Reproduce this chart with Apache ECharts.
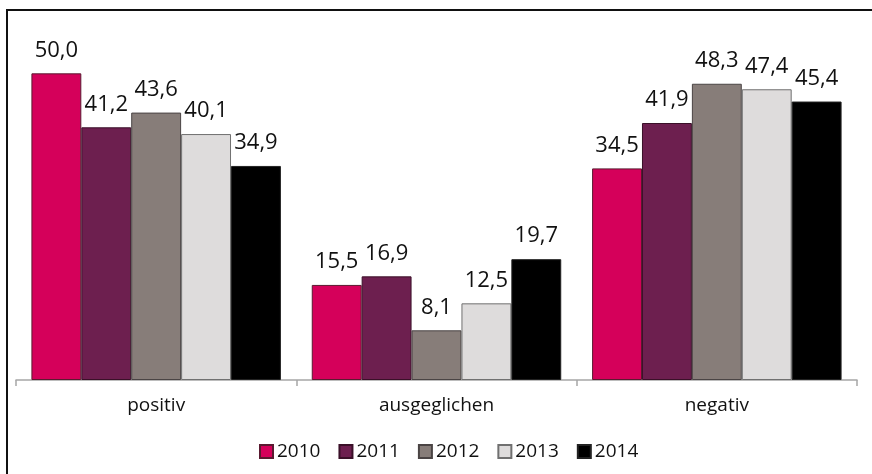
<!DOCTYPE html>
<html>
<head>
    <meta charset="utf-8">
    <title>Bewertung</title>
    <script src="https://cdn.jsdelivr.net/npm/echarts@6/dist/echarts.min.js"></script>
    <style>
        html, body { margin: 0; padding: 0; background: #fff; }
    </style>
</head>
<body>
    <div id="chart" style="width:872px;height:474px"></div>
    <script type="text/javascript">
        var categories = ['positiv', 'ausgeglichen', 'negativ'];
        var years = ['2010', '2011', '2012', '2013', '2014'];
        var v2010 = [50.0, 15.5, 34.5];
        var v2011 = [41.2, 16.9, 41.9];
        var v2012 = [43.6, 8.1, 48.3];
        var v2013 = [40.1, 12.5, 47.4];
        var v2014 = [34.9, 19.7, 45.4];
        var values = [v2010, v2011, v2012, v2013, v2014];
        var colors = ['#d5005a', '#6d1f4f', '#877d79', '#dedcdc', '#000000'];
        var borders = ['#5a1a30', '#3a1028', '#4a4444', '#707070', '#222222'];

        var myChart = echarts.init(document.getElementById('chart'));

        var series = [];
        for (var i = 0; i < years.length; i++) {
            series.push({
                name: years[i],
                type: 'bar',
                data: values[i],
                barGap: '0%',
                barCategoryGap: '11%',
                itemStyle: { color: colors[i], borderColor: borders[i], borderWidth: 1 },
                label: {
                    show: true,
                    position: 'top',
                    distance: 12,
                    fontFamily: 'Open Sans',
                    fontSize: 22,
                    color: '#111',
                    formatter: function (p) { return p.value.toFixed(1).replace('.', ','); }
                }
            });
        }

        var option = {
            animation: false,
            grid: { left: 16, right: 15, top: 12, bottom: 94 },
            legend: {
                data: years,
                left: 254,
                top: 437,
                itemWidth: 13,
                itemHeight: 13,
                itemGap: 18,
                icon: 'rect',
                textStyle: { fontFamily: 'Open Sans', fontSize: 19, color: '#111', padding: [0, 0, 0, -1] }
            },
            xAxis: {
                type: 'category',
                data: categories,
                axisLine: { lineStyle: { color: '#a6a6a6', width: 1.5 } },
                axisTick: { show: true, length: 6, lineStyle: { color: '#a6a6a6', width: 1.5 } },
                axisLabel: { margin: 16, fontFamily: 'Open Sans', fontSize: 19, color: '#111' }
            },
            yAxis: {
                type: 'value',
                min: 0,
                max: 60,
                show: false,
                splitLine: { show: false }
            },
            graphic: [{
                type: 'polyline',
                shape: { points: [[7, 474], [7, 10], [872, 10]] },
                style: { stroke: '#111', lineWidth: 2, fill: null }
            }],
            series: series
        };

        myChart.setOption(option);
    </script>
</body>
</html>
